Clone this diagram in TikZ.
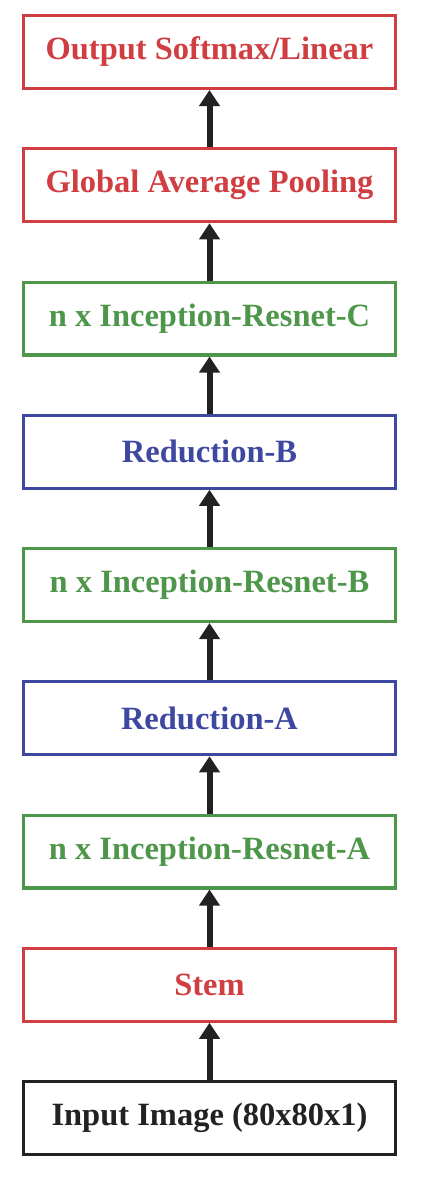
\documentclass[tikz,border=0pt]{standalone}
\usepackage{fontspec}
\setmainfont{Liberation Serif}
\usetikzlibrary{positioning}
\usetikzlibrary{arrows.meta}

\definecolor{redbox}{RGB}{208,62,66}
\definecolor{greenbox}{RGB}{78,150,74}
\definecolor{bluebox}{RGB}{62,72,160}
\definecolor{blackbox}{RGB}{34,34,34}

\tikzset{
  layer/.style={draw, line width=3.2pt, minimum width=371.8pt, minimum height=72.8pt,
    font=\fontsize{32.5}{36}\selectfont\bfseries},
  redlayer/.style={layer, draw=redbox, text=redbox},
  greenlayer/.style={layer, draw=greenbox, text=greenbox},
  bluelayer/.style={layer, draw=bluebox, text=bluebox},
  blacklayer/.style={layer, draw=blackbox, text=blackbox},
  flow/.style={-{Triangle[length=16pt,width=20pt]}, line width=6pt, blackbox}
}

\begin{document}
\begin{tikzpicture}[x=1pt, y=1pt, node distance=57.25pt]
  \useasboundingbox (0,0) rectangle (426,-1183);
  \node[redlayer] (out) at (209.5,-52) {Output Softmax/Linear};
  \node[redlayer, below=of out] (gap) {Global Average Pooling};
  \node[greenlayer, below=of gap] (incc) {n x Inception-Resnet-C};
  \node[bluelayer, below=of incc] (redb) {Reduction-B};
  \node[greenlayer, below=of redb] (incb) {n x Inception-Resnet-B};
  \node[bluelayer, below=of incb] (reda) {Reduction-A};
  \node[greenlayer, below=of reda] (inca) {n x Inception-Resnet-A};
  \node[redlayer, below=of inca] (stem) {Stem};
  \node[blacklayer, below=of stem] (input) {Input Image (80x80x1)};

  \draw[flow] (input) -- (stem);
  \draw[flow] (stem) -- (inca);
  \draw[flow] (inca) -- (reda);
  \draw[flow] (reda) -- (incb);
  \draw[flow] (incb) -- (redb);
  \draw[flow] (redb) -- (incc);
  \draw[flow] (incc) -- (gap);
  \draw[flow] (gap) -- (out);
\end{tikzpicture}
\end{document}
